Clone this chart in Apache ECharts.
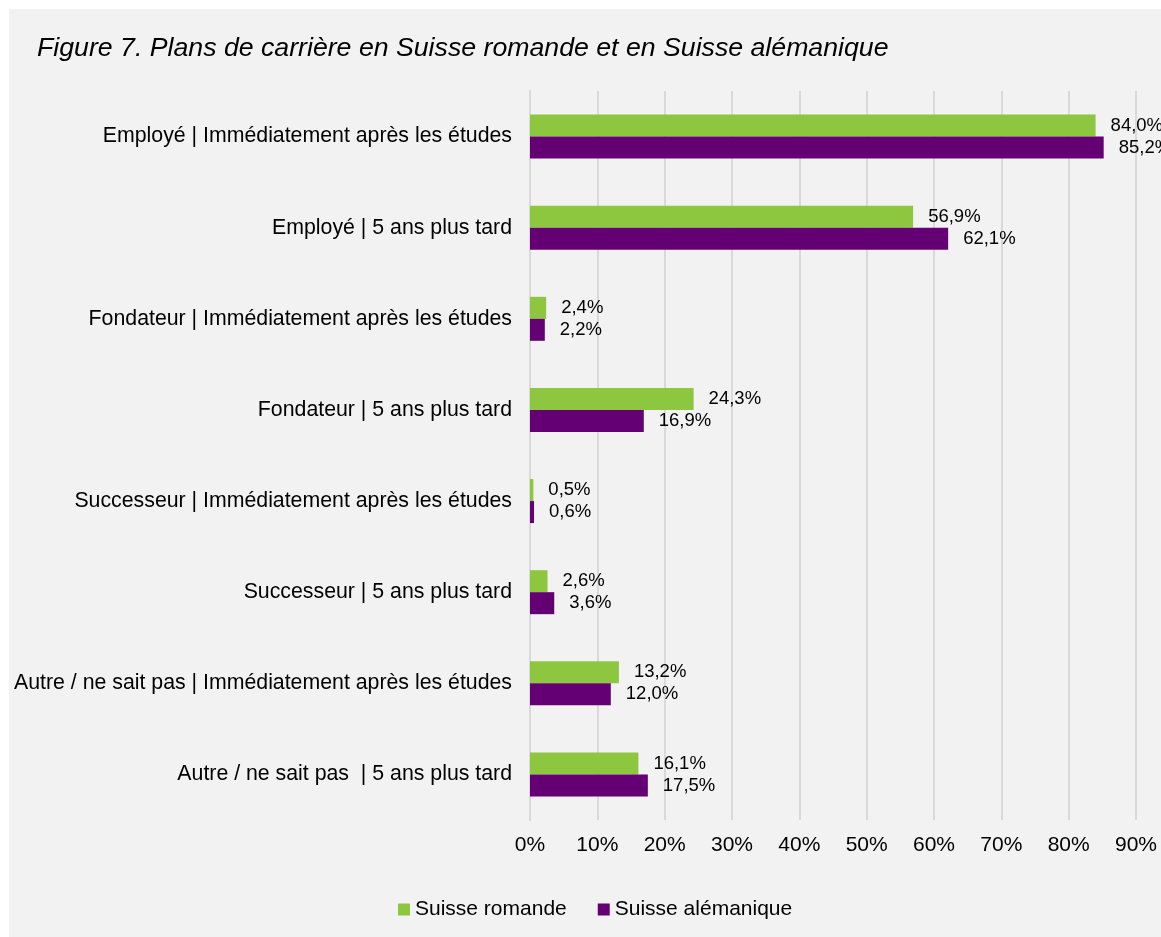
<!DOCTYPE html>
<html>
<head>
<meta charset="utf-8">
<script src="https://cdn.jsdelivr.net/npm/echarts@6/dist/echarts.min.js"></script>
<style>
html,body{margin:0;padding:0;background:#fff;}
#c{width:1161px;height:937px;}
</style>
</head>
<body>
<div id="c"></div>
<script>
const categories = [
  "Employé | Immédiatement après les études",
  "Employé | 5 ans plus tard",
  "Fondateur | Immédiatement après les études",
  "Fondateur | 5 ans plus tard",
  "Successeur | Immédiatement après les études",
  "Successeur | 5 ans plus tard",
  "Autre / ne sait pas | Immédiatement après les études",
  "Autre / ne sait pas  | 5 ans plus tard"
];
const romande = [84.0, 56.9, 2.4, 24.3, 0.5, 2.6, 13.2, 16.1];
const alemanique = [85.2, 62.1, 2.2, 16.9, 0.6, 3.6, 12.0, 17.5];
const seriesNames = ["Suisse romande", "Suisse alémanique"];
const titleText = "Figure 7. Plans de carrière en Suisse romande et en Suisse alémanique";

const font = "Liberation Sans, Arial, sans-serif";
const chart = echarts.init(document.getElementById('c'), null, {renderer: 'canvas'});
const fmt = v => v.toFixed(1).replace('.', ',') + '%';
chart.setOption({
  backgroundColor: '#ffffff',
  animation: false,
  graphic: [{
    type: 'rect', left: 9, top: 9, z: -10, silent: true,
    shape: {width: 1152, height: 928},
    style: {fill: '#f2f2f2'}
  }],
  title: {
    text: titleText, left: 32, top: 30,
    textStyle: {fontFamily: font, fontStyle: 'italic', fontWeight: 'normal', fontSize: 26.7, color: '#000'}
  },
  legend: {
    bottom: 12, left: 393, icon: 'rect', itemWidth: 12, itemHeight: 12, itemGap: 31,
    textStyle: {fontFamily: font, fontSize: 21, color: '#000'},
    data: seriesNames
  },
  grid: {left: 530, right: 25, top: 91, bottom: 117},
  xAxis: {
    type: 'value', min: 0, max: 90, interval: 10,
    axisLine: {show: false}, axisTick: {show: false},
    splitLine: {show: true, lineStyle: {color: '#d9d9d9', width: 2}},
    axisLabel: {formatter: v => v + '%', fontFamily: font, fontSize: 21, color: '#000', margin: 15}
  },
  yAxis: {
    type: 'category', inverse: true, data: categories,
    axisLine: {show: true, lineStyle: {color: '#d9d9d9', width: 2}}, axisTick: {show: false},
    axisLabel: {fontFamily: font, fontSize: 21.3, color: '#000', margin: 18}
  },
  series: [
    {
      name: seriesNames[0], type: 'bar', data: romande, barWidth: 22, barGap: '0%',
      itemStyle: {color: '#8dc63f'},
      label: {show: true, position: 'right', distance: 15, formatter: p => fmt(p.value),
        fontFamily: font, fontSize: 18.5, color: '#000'}
    },
    {
      name: seriesNames[1], type: 'bar', data: alemanique, barWidth: 22, barGap: '0%',
      itemStyle: {color: '#640073'},
      label: {show: true, position: 'right', distance: 15, formatter: p => fmt(p.value),
        fontFamily: font, fontSize: 18.5, color: '#000'}
    }
  ]
});
</script>
</body>
</html>
